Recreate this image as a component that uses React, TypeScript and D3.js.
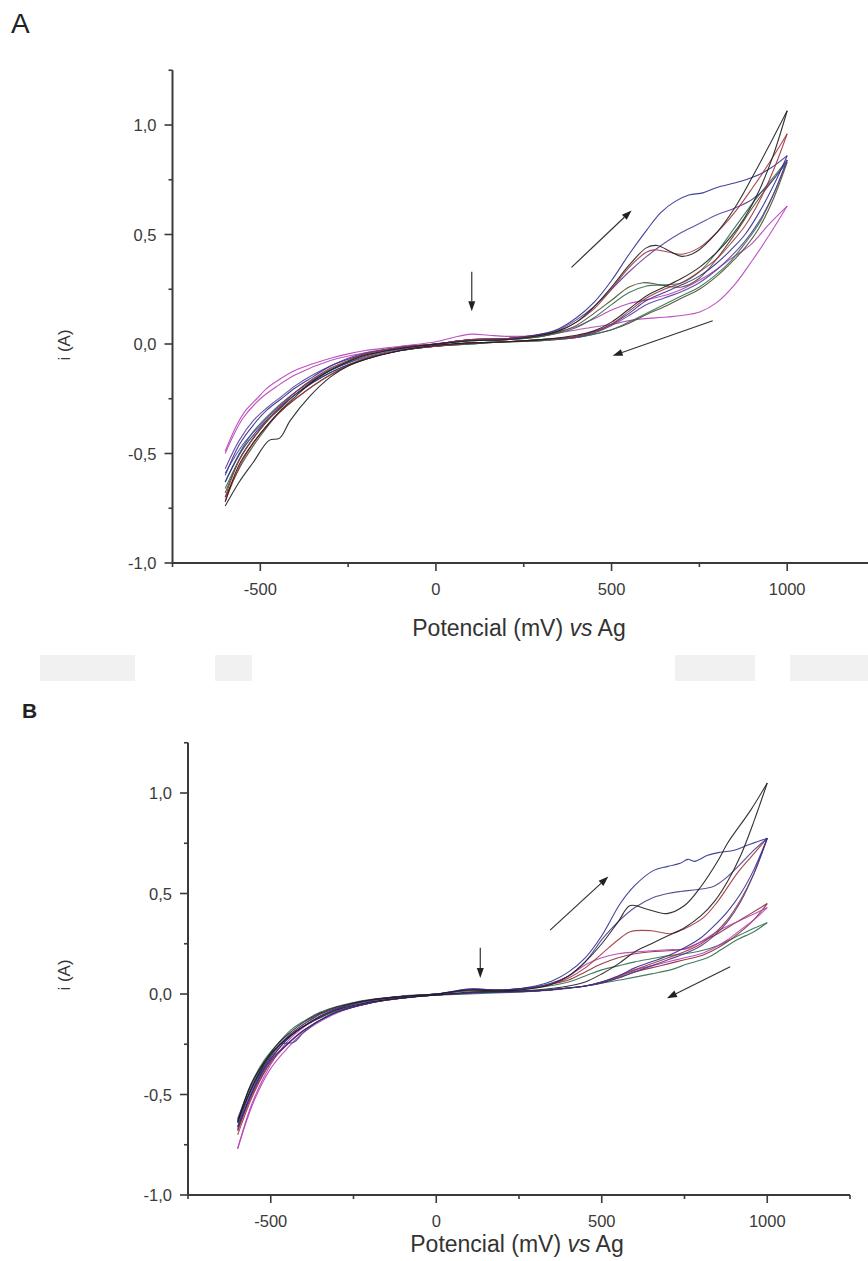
import React from 'react'
import * as d3 from 'd3'

type Pt = [number, number]

// ---- axis ticks (shared by both panels) ----
const xMajor = [-500, 0, 500, 1000]
const xMinor = [-750, -250, 250, 750, 1250]
const yMajor = [1, 0.5, 0, -0.5, -1]
const yMinor = [1.25, 0.75, 0.25, -0.25, -0.75]

// ---- panel A cycles: [potential mV, current A] ----
const aBlackFwd: Pt[] = [[-600,-0.72],[-560,-0.55],[-520,-0.45],[-480,-0.37],[-440,-0.3],[-400,-0.24],[-350,-0.17],[-300,-0.12],[-250,-0.08],[-200,-0.05],[-100,-0.02],[0,0],[100,0.015],[200,0.02],[300,0.04],[350,0.06],[400,0.1],[450,0.17],[500,0.26],[550,0.36],[600,0.44],[630,0.45],[670,0.42],[700,0.4],[740,0.42],[800,0.51],[850,0.62],[900,0.76],[950,0.91],[1000,1.065]]
const aBlackRev: Pt[] = [[1000,1.065],[960,0.86],[920,0.7],[880,0.58],[840,0.49],[800,0.42],[750,0.35],[700,0.3],[650,0.26],[600,0.22],[550,0.16],[500,0.1],[450,0.06],[400,0.04],[300,0.02],[200,0.01],[100,0.005],[0,-0.005],[-100,-0.03],[-200,-0.07],[-250,-0.1],[-300,-0.15],[-360,-0.24],[-415,-0.35],[-445,-0.43],[-475,-0.44],[-520,-0.54],[-560,-0.63],[-600,-0.74]]
const aRedFwd: Pt[] = [[-600,-0.7],[-560,-0.53],[-520,-0.43],[-480,-0.35],[-440,-0.28],[-400,-0.22],[-350,-0.16],[-300,-0.11],[-250,-0.075],[-200,-0.045],[-100,-0.015],[0,0],[100,0.02],[200,0.025],[300,0.04],[350,0.06],[400,0.1],[450,0.16],[500,0.25],[550,0.35],[600,0.42],[620,0.43],[660,0.42],[700,0.41],[750,0.44],[800,0.51],[850,0.6],[900,0.71],[950,0.83],[1000,0.96]]
const aRedRev: Pt[] = [[1000,0.96],[960,0.79],[920,0.65],[880,0.54],[840,0.46],[800,0.39],[750,0.33],[700,0.28],[650,0.25],[600,0.21],[550,0.15],[500,0.09],[450,0.055],[400,0.035],[300,0.02],[200,0.01],[100,0.005],[0,-0.01],[-100,-0.03],[-200,-0.065],[-300,-0.14],[-400,-0.25],[-450,-0.32],[-500,-0.41],[-550,-0.53],[-600,-0.72]]
const aNavyFwd: Pt[] = [[-600,-0.6],[-560,-0.46],[-520,-0.37],[-480,-0.3],[-440,-0.25],[-400,-0.2],[-350,-0.15],[-300,-0.1],[-250,-0.07],[-200,-0.045],[-100,-0.015],[0,0],[100,0.02],[200,0.025],[300,0.045],[350,0.07],[400,0.12],[450,0.19],[500,0.29],[550,0.41],[600,0.52],[640,0.6],[680,0.65],[720,0.68],[760,0.69],[800,0.715],[850,0.735],[900,0.76],[950,0.8],[1000,0.86]]
const aNavyRev: Pt[] = [[1000,0.86],[960,0.72],[920,0.6],[880,0.5],[840,0.43],[800,0.37],[750,0.31],[700,0.27],[650,0.235],[600,0.2],[550,0.14],[500,0.09],[450,0.055],[400,0.035],[300,0.02],[200,0.01],[100,0.005],[0,-0.01],[-100,-0.03],[-200,-0.07],[-300,-0.13],[-400,-0.23],[-450,-0.3],[-500,-0.38],[-550,-0.48],[-600,-0.63]]
const aVioletFwd: Pt[] = [[-600,-0.57],[-560,-0.44],[-520,-0.35],[-480,-0.29],[-440,-0.24],[-400,-0.19],[-350,-0.14],[-300,-0.1],[-250,-0.065],[-200,-0.04],[-100,-0.015],[0,0],[100,0.02],[200,0.025],[300,0.045],[350,0.065],[400,0.11],[450,0.17],[500,0.25],[550,0.33],[600,0.4],[650,0.46],[700,0.51],[750,0.55],[800,0.59],[850,0.62],[900,0.66],[950,0.73],[1000,0.84]]
const aVioletRev: Pt[] = [[1000,0.84],[960,0.68],[920,0.56],[880,0.47],[840,0.4],[800,0.34],[750,0.28],[700,0.24],[650,0.21],[600,0.18],[550,0.13],[500,0.085],[450,0.05],[400,0.03],[300,0.02],[200,0.01],[100,0.005],[0,-0.01],[-100,-0.025],[-200,-0.06],[-300,-0.12],[-400,-0.22],[-450,-0.29],[-500,-0.37],[-550,-0.46],[-600,-0.59]]
const aGreenFwd: Pt[] = [[-600,-0.63],[-560,-0.5],[-520,-0.4],[-480,-0.33],[-440,-0.27],[-400,-0.22],[-350,-0.16],[-300,-0.115],[-250,-0.08],[-200,-0.05],[-100,-0.02],[0,0],[100,0.015],[200,0.02],[300,0.035],[350,0.05],[400,0.075],[450,0.12],[500,0.18],[550,0.235],[600,0.265],[650,0.27],[700,0.28],[750,0.33],[800,0.42],[850,0.53],[900,0.64],[950,0.74],[1000,0.84]]
const aGreenRev: Pt[] = [[1000,0.84],[960,0.68],[920,0.55],[880,0.46],[840,0.38],[800,0.32],[750,0.26],[700,0.22],[650,0.18],[600,0.14],[550,0.1],[500,0.065],[450,0.045],[400,0.03],[300,0.015],[200,0.01],[100,0],[0,-0.01],[-100,-0.03],[-200,-0.065],[-300,-0.13],[-400,-0.23],[-450,-0.3],[-500,-0.39],[-550,-0.5],[-600,-0.66]]
const aOliveFwd: Pt[] = [[-600,-0.68],[-560,-0.53],[-520,-0.43],[-480,-0.35],[-440,-0.29],[-400,-0.23],[-350,-0.17],[-300,-0.12],[-250,-0.085],[-200,-0.055],[-100,-0.02],[0,0],[100,0.015],[200,0.02],[300,0.035],[350,0.055],[400,0.085],[450,0.14],[500,0.2],[550,0.26],[590,0.28],[640,0.27],[700,0.26],[750,0.3],[800,0.39],[850,0.5],[900,0.62],[950,0.73],[1000,0.83]]
const aOliveRev: Pt[] = [[1000,0.83],[960,0.66],[920,0.53],[880,0.44],[840,0.37],[800,0.31],[750,0.25],[700,0.21],[650,0.17],[600,0.135],[550,0.095],[500,0.065],[450,0.045],[400,0.03],[300,0.015],[200,0.01],[100,0],[0,-0.01],[-100,-0.03],[-200,-0.07],[-300,-0.14],[-400,-0.25],[-450,-0.32],[-500,-0.42],[-550,-0.54],[-600,-0.7]]
const aMagentaFwd: Pt[] = [[-600,-0.49],[-567,-0.37],[-540,-0.3],[-510,-0.25],[-480,-0.2],[-444,-0.16],[-400,-0.12],[-350,-0.09],[-300,-0.065],[-250,-0.045],[-200,-0.03],[-100,-0.01],[0,0.01],[50,0.03],[100,0.045],[150,0.04],[200,0.035],[300,0.04],[350,0.055],[400,0.08],[450,0.115],[500,0.155],[550,0.185],[609,0.205],[685,0.24],[780,0.32],[840,0.39],[894,0.45],[950,0.55],[1000,0.63]]
const aMagentaRev: Pt[] = [[1000,0.63],[950,0.5],[900,0.38],[850,0.27],[800,0.19],[751,0.146],[700,0.13],[657,0.123],[562,0.11],[500,0.09],[419,0.07],[350,0.05],[300,0.035],[200,0.025],[100,0.02],[0,0],[-100,-0.02],[-200,-0.04],[-300,-0.075],[-400,-0.14],[-450,-0.19],[-500,-0.25],[-550,-0.34],[-600,-0.5]]

// ---- panel B cycles ----
const bBlackFwd: Pt[] = [[-600,-0.64],[-560,-0.45],[-520,-0.34],[-480,-0.25],[-440,-0.19],[-400,-0.14],[-350,-0.095],[-300,-0.065],[-250,-0.045],[-200,-0.03],[-100,-0.012],[0,0],[100,0.02],[200,0.015],[300,0.03],[350,0.05],[400,0.09],[450,0.16],[500,0.25],[550,0.36],[586,0.44],[640,0.42],[697,0.4],[750,0.44],[800,0.535],[850,0.66],[880,0.75],[950,0.915],[1000,1.05]]
const bBlackRev: Pt[] = [[1000,1.05],[960,0.86],[920,0.69],[880,0.56],[840,0.46],[800,0.39],[750,0.33],[700,0.29],[650,0.25],[600,0.21],[550,0.15],[500,0.1],[450,0.06],[400,0.04],[300,0.02],[200,0.015],[100,0.01],[0,-0.005],[-100,-0.02],[-200,-0.04],[-300,-0.08],[-400,-0.16],[-450,-0.22],[-500,-0.3],[-550,-0.44],[-600,-0.63]]
const bNavyFwd: Pt[] = [[-600,-0.66],[-560,-0.5],[-520,-0.37],[-480,-0.28],[-440,-0.21],[-400,-0.16],[-350,-0.11],[-300,-0.075],[-250,-0.05],[-200,-0.032],[-100,-0.012],[0,0],[100,0.025],[200,0.02],[300,0.04],[350,0.065],[400,0.11],[450,0.18],[500,0.29],[556,0.45],[600,0.54],[657,0.615],[700,0.635],[737,0.65],[760,0.67],[780,0.66],[820,0.69],[858,0.705],[900,0.715],[939,0.74],[1000,0.775]]
const bNavyRev: Pt[] = [[1000,0.775],[960,0.62],[920,0.5],[880,0.41],[840,0.34],[800,0.28],[750,0.23],[700,0.19],[650,0.16],[600,0.13],[550,0.09],[500,0.06],[450,0.04],[400,0.03],[300,0.015],[200,0.01],[100,0.005],[0,-0.005],[-100,-0.02],[-200,-0.045],[-300,-0.09],[-400,-0.18],[-450,-0.25],[-500,-0.33],[-550,-0.47],[-600,-0.67]]
const bPurpleFwd: Pt[] = [[-600,-0.62],[-560,-0.46],[-520,-0.34],[-480,-0.26],[-440,-0.2],[-400,-0.15],[-350,-0.1],[-300,-0.07],[-250,-0.045],[-200,-0.03],[-100,-0.012],[0,0],[100,0.02],[200,0.02],[300,0.035],[350,0.055],[400,0.09],[450,0.16],[505,0.28],[550,0.36],[600,0.43],[656,0.48],[700,0.5],[737,0.51],[790,0.52],[837,0.535],[870,0.57],[909,0.63],[950,0.7],[1000,0.775]]
const bPurpleRev: Pt[] = [[1000,0.775],[960,0.6],[920,0.46],[880,0.36],[840,0.29],[800,0.24],[750,0.2],[700,0.17],[650,0.14],[600,0.11],[550,0.08],[500,0.055],[450,0.04],[400,0.03],[300,0.015],[200,0.01],[100,0.005],[0,-0.005],[-100,-0.02],[-200,-0.045],[-300,-0.09],[-350,-0.13],[-400,-0.19],[-430,-0.24],[-470,-0.25],[-500,-0.31],[-550,-0.45],[-600,-0.64]]
const bRedFwd: Pt[] = [[-600,-0.68],[-560,-0.5],[-520,-0.37],[-480,-0.28],[-440,-0.21],[-400,-0.16],[-350,-0.11],[-300,-0.075],[-250,-0.05],[-200,-0.033],[-100,-0.013],[0,0],[100,0.02],[200,0.02],[300,0.035],[350,0.05],[400,0.08],[450,0.13],[500,0.2],[550,0.27],[586,0.31],[650,0.315],[707,0.3],[750,0.325],[807,0.38],[850,0.46],[909,0.6],[950,0.68],[1000,0.775]]
const bRedRev: Pt[] = [[1000,0.775],[960,0.6],[920,0.47],[880,0.37],[840,0.3],[800,0.25],[750,0.21],[700,0.18],[650,0.15],[600,0.12],[550,0.085],[500,0.06],[450,0.04],[400,0.03],[300,0.015],[200,0.01],[100,0.005],[0,-0.005],[-100,-0.02],[-200,-0.045],[-300,-0.09],[-400,-0.18],[-450,-0.25],[-500,-0.34],[-550,-0.49],[-600,-0.7]]
const bMaroonFwd: Pt[] = [[-600,-0.66],[-560,-0.48],[-520,-0.36],[-480,-0.27],[-440,-0.2],[-400,-0.15],[-350,-0.1],[-300,-0.07],[-250,-0.047],[-200,-0.03],[-100,-0.012],[0,0],[100,0.02],[200,0.02],[300,0.035],[350,0.05],[400,0.07],[450,0.11],[500,0.15],[550,0.18],[600,0.2],[650,0.21],[700,0.215],[750,0.225],[800,0.26],[850,0.3],[900,0.35],[950,0.4],[1000,0.45]]
const bMaroonRev: Pt[] = [[1000,0.45],[960,0.37],[920,0.31],[880,0.26],[840,0.22],[800,0.19],[750,0.17],[700,0.15],[650,0.13],[600,0.11],[550,0.08],[500,0.055],[450,0.04],[400,0.03],[300,0.015],[200,0.01],[100,0.005],[0,-0.005],[-100,-0.02],[-200,-0.045],[-300,-0.09],[-400,-0.18],[-450,-0.25],[-500,-0.34],[-550,-0.48],[-600,-0.68]]
const bMagentaFwd: Pt[] = [[-600,-0.77],[-560,-0.56],[-520,-0.41],[-480,-0.3],[-440,-0.22],[-400,-0.165],[-350,-0.11],[-300,-0.078],[-250,-0.052],[-200,-0.035],[-100,-0.012],[0,0],[100,0.025],[200,0.02],[300,0.035],[350,0.055],[400,0.09],[456,0.15],[500,0.18],[550,0.2],[607,0.21],[700,0.22],[758,0.225],[800,0.26],[858,0.32],[950,0.39],[1000,0.43]]
const bMagentaRev: Pt[] = [[1000,0.43],[960,0.37],[920,0.32],[880,0.27],[840,0.23],[800,0.2],[750,0.18],[700,0.16],[650,0.14],[600,0.12],[550,0.09],[500,0.06],[450,0.04],[400,0.03],[300,0.015],[200,0.01],[100,0.005],[0,-0.005],[-100,-0.02],[-200,-0.045],[-300,-0.095],[-400,-0.19],[-450,-0.27],[-500,-0.37],[-550,-0.53],[-600,-0.77]]
const bGreenFwd: Pt[] = [[-600,-0.63],[-560,-0.45],[-520,-0.33],[-480,-0.25],[-440,-0.18],[-400,-0.135],[-350,-0.09],[-300,-0.062],[-250,-0.042],[-200,-0.028],[-100,-0.01],[0,0],[100,0.015],[200,0.015],[300,0.03],[400,0.06],[450,0.09],[500,0.12],[550,0.14],[600,0.16],[650,0.175],[700,0.19],[750,0.2],[800,0.215],[850,0.24],[900,0.28],[950,0.32],[1000,0.355]]
const bGreenRev: Pt[] = [[1000,0.355],[960,0.31],[909,0.27],[860,0.22],[819,0.18],[760,0.15],[707,0.12],[650,0.1],[556,0.07],[450,0.04],[353,0.02],[250,0.01],[100,0],[0,-0.005],[-100,-0.018],[-200,-0.04],[-300,-0.085],[-400,-0.16],[-450,-0.22],[-500,-0.3],[-550,-0.44],[-600,-0.64]]

// ---- arrow annotations [from, to] in data units ----
const arrowsA: [Pt, Pt][] = [[[386, 0.35], [557, 0.61]], [[788, 0.106], [503, -0.054]], [[102, 0.33], [102, 0.15]]]
const arrowsB: [Pt, Pt][] = [[[344, 0.318], [520, 0.584]], [[888, 0.136], [697, -0.021]], [[133, 0.23], [133, 0.08]]]

const seriesA = [
  { fwd: aMagentaFwd, rev: aMagentaRev, color: '#b63fb8' },
  { fwd: aOliveFwd, rev: aOliveRev, color: '#4d4d2a' },
  { fwd: aGreenFwd, rev: aGreenRev, color: '#2f6e4c' },
  { fwd: aVioletFwd, rev: aVioletRev, color: '#5b3d9c' },
  { fwd: aNavyFwd, rev: aNavyRev, color: '#2c2f8f' },
  { fwd: aRedFwd, rev: aRedRev, color: '#a2333b' },
  { fwd: aBlackFwd, rev: aBlackRev, color: '#1d1d1d' },
]
const seriesB = [
  { fwd: bGreenFwd, rev: bGreenRev, color: '#2f6e4c' },
  { fwd: bMaroonFwd, rev: bMaroonRev, color: '#8a2d35' },
  { fwd: bMagentaFwd, rev: bMagentaRev, color: '#b63fb8' },
  { fwd: bRedFwd, rev: bRedRev, color: '#a2333b' },
  { fwd: bPurpleFwd, rev: bPurpleRev, color: '#4b3a8a' },
  { fwd: bNavyFwd, rev: bNavyRev, color: '#2c2f8f' },
  { fwd: bBlackFwd, rev: bBlackRev, color: '#1d1d1d' },
]

const font = '"Liberation Sans", Arial, sans-serif'
const fmtY = (v: number) => d3.format('.1f')(v).replace('.', ',').replace('−', '-')

type PanelProps = {
  xRange: [number, number]
  yRange: [number, number]
  series: { fwd: Pt[]; rev: Pt[]; color: string }[]
  arrows: [Pt, Pt][]
  titleX: number
  titleY: number
  ylabelY: number
}

const Panel = ({ xRange, yRange, series, arrows, titleX, titleY, ylabelY }: PanelProps) => {
  const x = d3.scaleLinear().domain([-750, 1250]).range(xRange)
  const y = d3.scaleLinear().domain([-1, 1.25]).range(yRange)
  const line = d3.line<Pt>().x(d => x(d[0])).y(d => y(d[1])).curve(d3.curveCatmullRom.alpha(0.5))
  const x0 = xRange[0]
  const y0 = yRange[0]
  const axisColor = '#3a3a3a'

  return (
    <g>
      {series.map((s, i) => (
        <g key={i} fill="none" stroke={s.color} strokeWidth={1.1} strokeOpacity={0.9}>
          <path d={line(s.fwd) || ''} />
          <path d={line(s.rev) || ''} />
        </g>
      ))}
      {arrows.map(([a, b], i) => {
        const x1 = x(a[0]), y1 = y(a[1]), x2 = x(b[0]), y2 = y(b[1])
        const ang = Math.atan2(y2 - y1, x2 - x1)
        const L = 10, W = 3.5
        const bx = x2 - L * Math.cos(ang), by = y2 - L * Math.sin(ang)
        const p = [
          [x2, y2],
          [bx + W * Math.sin(ang), by - W * Math.cos(ang)],
          [bx - W * Math.sin(ang), by + W * Math.cos(ang)],
        ]
        return (
          <g key={i}>
            <line x1={x1} y1={y1} x2={bx} y2={by} stroke="#333" strokeWidth={1.2} />
            <polygon points={p.map(q => q.join(',')).join(' ')} fill="#222" />
          </g>
        )
      })}
      {/* axes */}
      <line x1={x0} x2={x0} y1={y(1.25)} y2={y0} stroke={axisColor} strokeWidth={2} />
      <line x1={x0} x2={xRange[1]} y1={y0} y2={y0} stroke={axisColor} strokeWidth={2} />
      {xMajor.map(v => (
        <g key={'xm' + v}>
          <line x1={x(v)} x2={x(v)} y1={y0} y2={y0 + 8} stroke={axisColor} strokeWidth={1.6} />
          <text x={x(v)} y={y0 + 32} textAnchor="middle" fontFamily={font} fontSize={16.5} fill="#3a3a3a">{String(v)}</text>
        </g>
      ))}
      {xMinor.map(v => (
        <line key={'xn' + v} x1={x(v)} x2={x(v)} y1={y0} y2={y0 + 4} stroke={axisColor} strokeWidth={1.6} />
      ))}
      {yMajor.map(v => (
        <g key={'ym' + v}>
          <line x1={x0 - 8} x2={x0} y1={y(v)} y2={y(v)} stroke={axisColor} strokeWidth={1.6} />
          <text x={x0 - 16} y={y(v) + 6} textAnchor="end" fontFamily={font} fontSize={16.5} fill="#3a3a3a">{fmtY(v)}</text>
        </g>
      ))}
      {yMinor.map(v => (
        <line key={'yn' + v} x1={x0 - 4} x2={x0} y1={y(v)} y2={y(v)} stroke={axisColor} strokeWidth={1.6} />
      ))}
      <text x={titleX} y={titleY} textAnchor="middle" fontFamily={font} fontSize={23} fill="#333">
        Potencial (mV) <tspan fontStyle="italic">vs</tspan> Ag
      </text>
      <text transform={`translate(70,${ylabelY}) rotate(-90)`} textAnchor="middle" fontFamily={font} fontSize={17} fill="#333">
        i (A)
      </text>
    </g>
  )
}

export default function App() {
  return (
    <svg width={868} height={1261} style={{ position: 'absolute', left: 0, top: 0, background: '#fff' }}>
      <rect width={868} height={1261} fill="#fff" />
      <text x={11} y={33} fontFamily={font} fontSize={28} fill="#222">A</text>
      <Panel xRange={[172.5, 875]} yRange={[563, 70.25]} series={seriesA} arrows={arrowsA} titleX={519} titleY={636} ylabelY={345} />
      {/* faint grey strips between the panels */}
      <g fill="#f1f1f1">
        <rect x={40} y={655} width={95} height={26} />
        <rect x={215} y={655} width={37} height={26} />
        <rect x={675} y={655} width={80} height={26} />
        <rect x={790} y={655} width={78} height={26} />
      </g>
      <text x={22} y={718} fontFamily='"Liberation Sans Narrow", "Liberation Sans", Arial' fontWeight="bold" fontSize={21} fill="#222">B</text>
      <Panel xRange={[188, 850]} yRange={[1195, 742.75]} series={seriesB} arrows={arrowsB} titleX={517} titleY={1252} ylabelY={975} />
    </svg>
  )
}
